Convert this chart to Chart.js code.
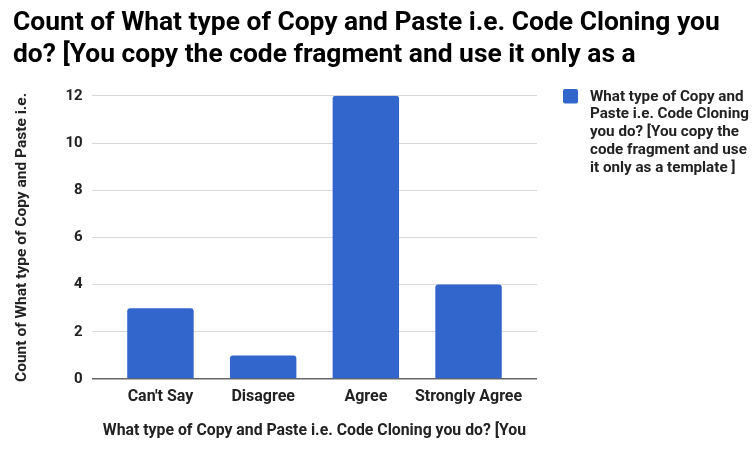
<!DOCTYPE html>
<html>
<head>
<meta charset="utf-8">
<script src="https://cdn.jsdelivr.net/npm/chart.js@4/dist/chart.umd.min.js"></script>
<style>
  html, body { margin: 0; padding: 0; background: #ffffff; }
  #wrap { width: 756px; height: 453px; position: relative; }
</style>
</head>
<body>
<div id="wrap"><canvas id="chart"></canvas></div>
<script>
// Survey answers and how many respondents picked each one
const categories = ["Can't Say", "Disagree", "Agree", "Strongly Agree"];
const counts = [3, 1, 12, 4];
const yTicks = [0, 2, 4, 6, 8, 10, 12];

const chartTitle = [
  "Count of What type of Copy and Paste i.e. Code Cloning you",
  "do? [You copy the code fragment and use it only as a"
];
const seriesName = "What type of Copy and Paste i.e. Code Cloning you do? [You copy the code fragment and use it only as a template ]";
const xAxisTitle = "What type of Copy and Paste i.e. Code Cloning you do? [You";
const yAxisTitle = "Count of What type of Copy and Paste i.e.";

const BAR_COLOR = '#3366cc';
const TEXT_COLOR = '#222222';
const FONT = 'Roboto, "Noto Sans", sans-serif';

// Leave a little breathing room on both ends of the category axis
const categoryPad = {
  id: 'categoryPad',
  afterLayout(chart) {
    const x = chart.scales.x;
    const extra = 1 / 6;
    x._startValue -= extra;
    x._valueRange += 2 * extra;
  }
};

// Legend on the right side with word-wrapped series name
function wrapWords(ctx, text, maxWidth) {
  const words = text.split(' ');
  const lines = [];
  let line = '';
  for (const w of words) {
    const test = line ? line + ' ' + w : w;
    if (line && ctx.measureText(test).width > maxWidth) {
      lines.push(line);
      line = w;
    } else {
      line = test;
    }
  }
  if (line) lines.push(line);
  return lines;
}

const sideLegend = {
  id: 'sideLegend',
  afterDraw(chart) {
    const ctx = chart.ctx;
    const ds = chart.data.datasets[0];
    const left = chart.chartArea.right + 26;
    const top = 89;
    ctx.save();
    ctx.fillStyle = ds.backgroundColor;
    ctx.beginPath();
    ctx.roundRect(left, top, 15, 14.5, 2);
    ctx.fill();
    ctx.font = 'bold 15.2px ' + FONT;
    ctx.fillStyle = TEXT_COLOR;
    ctx.textBaseline = 'middle';
    ctx.textAlign = 'left';
    const lines = wrapWords(ctx, ds.label, 168);
    lines.forEach((ln, i) => {
      ctx.fillText(ln, left + 27, top + 7.8 + i * 17.8);
    });
    ctx.restore();
  }
};

new Chart(document.getElementById('chart'), {
  type: 'bar',
  data: {
    labels: categories,
    datasets: [{
      label: seriesName,
      data: counts,
      backgroundColor: BAR_COLOR,
      borderWidth: 0,
      borderRadius: { topLeft: 3, topRight: 3, bottomLeft: 0, bottomRight: 0 },
      borderSkipped: 'start',
      barPercentage: 0.647,
      categoryPercentage: 1.0
    }]
  },
  options: {
    responsive: true,
    maintainAspectRatio: false,
    animation: false,
    devicePixelRatio: 1,
    layout: { padding: { left: 13, right: 0, top: 0, bottom: 0 } },
    plugins: {
      legend: { display: false },
      tooltip: { enabled: false },
      title: {
        display: true,
        text: chartTitle,
        align: 'start',
        color: '#000000',
        font: { family: FONT, size: 26.4, weight: 'bold', lineHeight: 1.22 },
        padding: { top: 7, bottom: 24.4 }
      }
    },
    scales: {
      x: {
        grid: { display: false, drawTicks: false },
        border: { display: false },
        ticks: {
          color: TEXT_COLOR,
          padding: 8.6,
          maxRotation: 0,
          autoSkip: false,
          font: { family: FONT, size: 16, weight: 'bold' }
        },
        title: {
          display: true,
          text: xAxisTitle,
          color: TEXT_COLOR,
          font: { family: FONT, size: 15.8, weight: 'bold' },
          padding: { top: 10, bottom: 12.2 }
        },
        afterFit(scale) { scale.height = 74; }
      },
      y: {
        min: 0,
        max: 12,
        afterBuildTicks(scale) { scale.ticks = yTicks.map(v => ({ value: v })); },
        grid: {
          drawTicks: false,
          color: (c) => (c.tick && c.tick.value === 0 ? '#666666' : '#d9d9d9'),
          lineWidth: (c) => (c.tick && c.tick.value === 0 ? 1.6 : 1)
        },
        border: { display: false },
        ticks: {
          color: TEXT_COLOR,
          padding: 9.3,
          font: { family: FONT, size: 15, weight: 'bold' }
        },
        title: {
          display: true,
          text: yAxisTitle,
          color: TEXT_COLOR,
          font: { family: FONT, size: 15.5, weight: 'bold' },
          padding: { top: 0, bottom: 0 }
        },
        afterFit(scale) { scale.width = 79; }
      },
      side: {
        type: 'linear',
        position: 'right',
        display: true,
        grid: { display: false, drawTicks: false },
        border: { display: false },
        ticks: { display: false },
        afterFit(scale) { scale.width = 219; }
      }
    }
  },
  plugins: [categoryPad, sideLegend]
});
</script>
</body>
</html>
